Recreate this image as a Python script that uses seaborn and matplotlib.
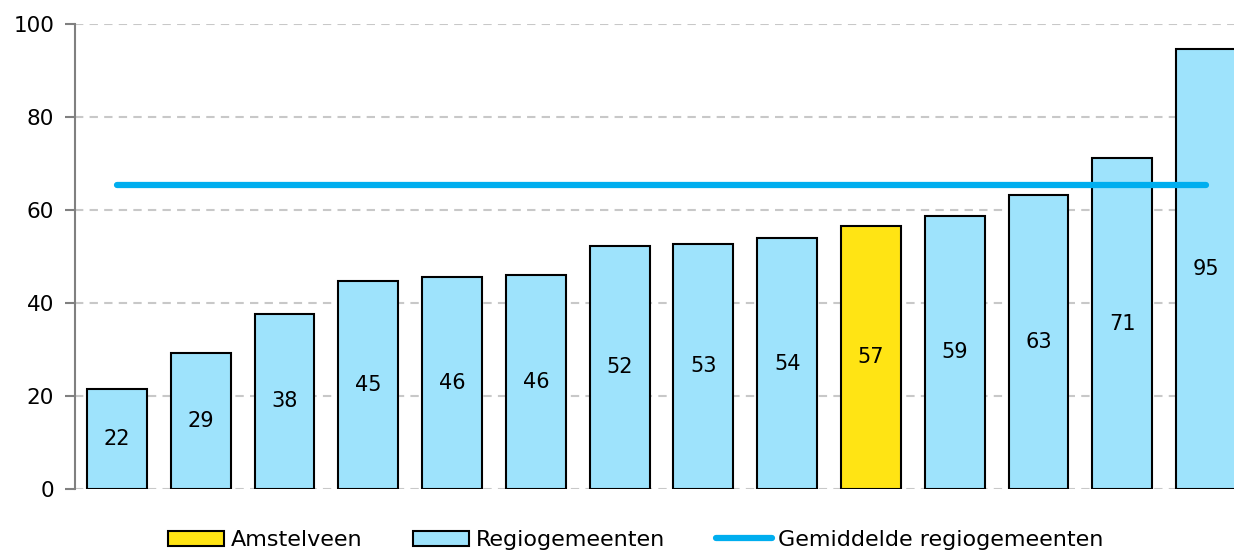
import matplotlib
matplotlib.use("Agg")
import matplotlib.pyplot as plt
import seaborn as sns
import pandas as pd
from matplotlib.patches import Patch
from matplotlib.lines import Line2D

categories = ["G1", "G2", "G3", "G4", "G5", "G6", "G7", "G8", "G9",
              "Amstelveen", "G11", "G12", "G13", "G14"]
values = [21.6, 29.3, 37.7, 44.8, 45.6, 46.1, 52.3, 52.7, 53.9,
          56.6, 58.8, 63.3, 71.1, 94.6]
average = 65.4
highlight = "Amstelveen"
legend_labels = ["Amstelveen", "Regiogemeenten", "Gemiddelde regiogemeenten"]
yticks = [0, 20, 40, 60, 80, 100]

YELLOW = "#FFE414"
BLUE_BAR = "#9EE3FC"
BLUE_LINE = "#00AEEF"

sns.set_theme(style="white")
plt.rcParams['font.family'] = ['DejaVu Sans']
plt.rcParams['text.color'] = 'black'

df = pd.DataFrame({"cat": categories, "val": values})
palette = {c: (YELLOW if c == highlight else BLUE_BAR) for c in categories}

fig = plt.figure(figsize=(12.34, 5.52), dpi=100)
ax = fig.add_axes([75 / 1234, 63 / 552, 1173 / 1234, 465 / 552])

sns.barplot(data=df, x="cat", y="val", hue="cat", palette=palette,
            legend=False, width=0.715, edgecolor="black", linewidth=1.5,
            saturation=1, ax=ax, zorder=3)

for cont in ax.containers:
    ax.bar_label(cont, fmt="%.0f", label_type="center", fontsize=15,
                 color="black")

ax.plot([0, len(categories) - 1], [average, average], color=BLUE_LINE,
        linewidth=4.5, solid_capstyle="round", zorder=4)

ax.set_ylim(0, 100)
ax.set_xlim(-0.5, len(categories) - 0.5)
ax.set_yticks(yticks)
ax.set_yticklabels([str(t) for t in yticks], fontsize=15.5, color="black")
ax.set_xticks([])
ax.set_xlabel("")
ax.set_ylabel("")
ax.yaxis.grid(True, color="#C8C8C8", linestyle=(0, (4, 3)), linewidth=1.5)
ax.set_axisbelow(True)
for s in ["top", "right", "bottom"]:
    ax.spines[s].set_visible(False)
ax.spines["left"].set_color("#808080")
ax.spines["left"].set_linewidth(1.5)
ax.tick_params(axis="y", which="major", left=True, length=7, width=1.5,
               color="#808080", pad=8)

handles = [Patch(facecolor=YELLOW, edgecolor="black", linewidth=1.5),
           Patch(facecolor=BLUE_BAR, edgecolor="black", linewidth=1.5),
           Line2D([0], [0], color=BLUE_LINE, linewidth=4.5,
                  solid_capstyle="round")]
fig.legend(handles, legend_labels, loc="center", bbox_to_anchor=(636 / 1234, 1 - 540 / 552),
           ncol=3, frameon=False, fontsize=16, labelcolor="black",
           handlelength=2.5, handleheight=0.65, handletextpad=0.3,
           columnspacing=2.3)

fig.savefig("out.png", dpi=100)
